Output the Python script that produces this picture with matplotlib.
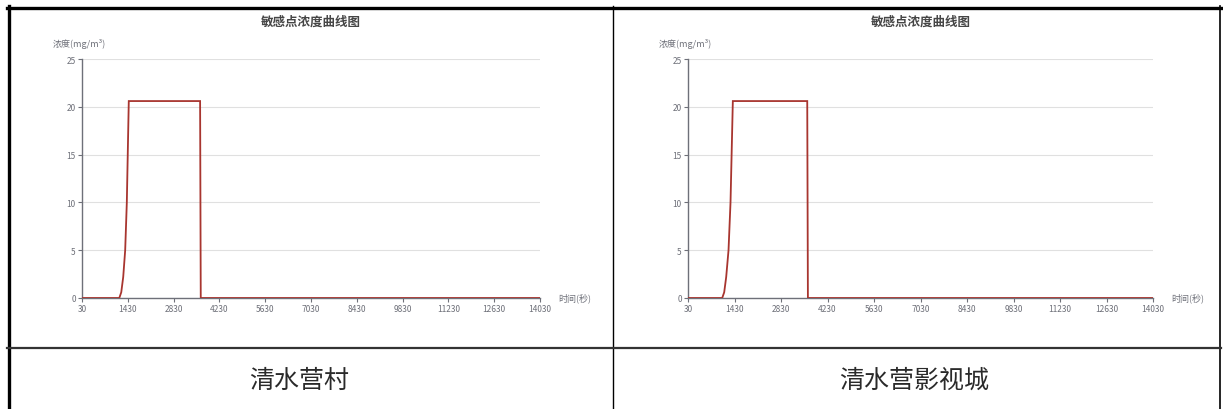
import matplotlib
matplotlib.use("Agg")
import matplotlib.pyplot as plt
from matplotlib.lines import Line2D

plt.rcParams['font.family'] = ['Noto Sans CJK SC', 'DejaVu Sans']

# ---- data -------------------------------------------------------------
chart_title = "敏感点浓度曲线图"
y_label = "浓度(mg/m³)"
x_label = "时间(秒)"
site_names = ["清水营村", "清水营影视城"]

x_ticks = [30, 1430, 2830, 4230, 5630, 7030, 8430, 9830, 11230, 12630, 14030]
y_ticks = [0, 5, 10, 15, 20, 25]

# time (s) and concentration (mg/m³) for each sensitive point
time_village = [30, 1170, 1230, 1290, 1350, 1400, 1460, 3640, 3660, 14030]
conc_village = [0, 0, 0.6, 2.2, 5.0, 10.0, 20.6, 20.6, 0, 0]

time_studio = [30, 1060, 1120, 1180, 1250, 1310, 1380, 3620, 3640, 14030]
conc_studio = [0, 0, 0.6, 2.2, 5.0, 10.0, 20.6, 20.6, 0, 0]

series = [(time_village, conc_village), (time_studio, conc_studio)]

# ---- figure -----------------------------------------------------------
W, H = 1223, 410
fig = plt.figure(figsize=(W / 100, H / 100), dpi=100)
fig.patch.set_facecolor("white")


def fx(px):
    return px / W


def fy(py):
    return 1 - py / H


axis_color = "#6e7079"
line_color = "#a8352f"

# axes rectangles in pixels: (left, right, top, bottom)
boxes = [(82, 540, 60, 299), (688, 1153, 60, 299)]

for (t, c), (l, r, top, bot), name in zip(series, boxes, site_names):
    ax = fig.add_axes([fx(l), fy(bot), fx(r - l), (bot - top) / H])
    ax.plot(t, c, color=line_color, lw=1.3, solid_joinstyle="miter", zorder=3)
    ax.set_xlim(x_ticks[0], x_ticks[-1])
    ax.set_ylim(y_ticks[0], y_ticks[-1])
    ax.set_xticks(x_ticks)
    ax.set_yticks(y_ticks)
    ax.set_xticklabels([str(v) for v in x_ticks])
    ax.tick_params(axis="both", labelsize=6, colors=axis_color, length=3,
                   width=0.8, pad=1.5)
    ax.grid(axis="y", color="#e0e0e0", lw=0.8)
    ax.set_axisbelow(True)
    for s in ("top", "right"):
        ax.spines[s].set_visible(False)
    for s in ("left", "bottom"):
        ax.spines[s].set_color(axis_color)
        ax.spines[s].set_linewidth(1.0)

    cx = (l + r) / 2
    fig.text(fx(cx), fy(22), chart_title, ha="center", va="center",
             fontsize=9, fontweight="bold", color="#464646")
    fig.text(fx(l - 29), fy(44), y_label, ha="left", va="center",
             fontsize=6.5, color=axis_color)
    fig.text(fx(r + 18), fy(298), x_label, ha="left", va="center",
             fontsize=6.5, color=axis_color)

# ---- table frame ------------------------------------------------------
def hline(y, x0, x1, lw, color="black"):
    fig.add_artist(Line2D([fx(x0), fx(x1)], [fy(y), fy(y)], lw=lw,
                          color=color, transform=fig.transFigure))


def vline(x, y0, y1, lw, color="black"):
    fig.add_artist(Line2D([fx(x), fx(x)], [fy(y0), fy(y1)], lw=lw,
                          color=color, transform=fig.transFigure))


hline(9, 7, 1221, 2.4)
vline(8.5, 7, H, 2.4)
vline(1220, 7, H, 1.2)
vline(613, 7, H, 1.0)
hline(349, 7, 1221, 1.6, "#333333")

for name, cx in zip(site_names, [299, 914]):
    fig.text(fx(cx), fy(381), name, ha="center", va="center",
             fontsize=18, color="#2a2a2a")

fig.savefig("out.png", dpi=100, facecolor="white")
